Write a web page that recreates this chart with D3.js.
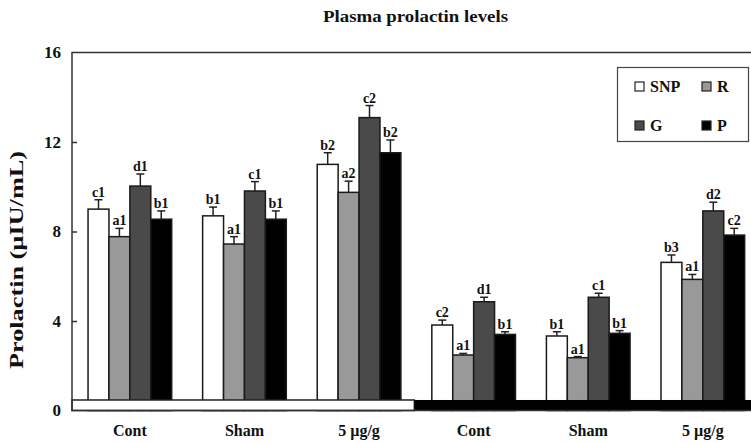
<!DOCTYPE html>
<html>
<head>
<meta charset="utf-8">
<script src="https://cdn.jsdelivr.net/npm/d3@7"></script>
<style>
  body { margin: 0; background: #fff; }
  text { font-family: "Liberation Serif", "Times New Roman", serif; font-weight: bold; fill: #111; }
</style>
</head>
<body>
<div class="chart"></div>
<script>
// Chart data
var groupLabels = ["Cont", "Sham", "5 \u00b5g/g", "Cont", "Sham", "5 \u00b5g/g"];
var seriesNames = ["SNP", "R", "G", "P"];

var snpValues = [9.0, 8.7, 11.0, 3.82, 3.33, 6.62];
var rValues   = [7.77, 7.44, 9.75, 2.48, 2.36, 5.86];
var gValues   = [10.03, 9.81, 13.09, 4.86, 5.06, 8.92];
var pValues   = [8.55, 8.55, 11.52, 3.4, 3.45, 7.84];

var snpErr = [0.42, 0.39, 0.52, 0.22, 0.19, 0.33];
var rErr   = [0.37, 0.33, 0.5, 0.07, 0.05, 0.22];
var gErr   = [0.54, 0.42, 0.54, 0.2, 0.18, 0.39];
var pErr   = [0.37, 0.37, 0.57, 0.12, 0.12, 0.3];

var snpLetters = ["c1", "b1", "b2", "c2", "b1", "b3"];
var rLetters   = ["a1", "a1", "a2", "a1", "a1", "a1"];
var gLetters   = ["d1", "c1", "c2", "d1", "c1", "d2"];
var pLetters   = ["b1", "b1", "b2", "b1", "b1", "c2"];

var yTicks = [0, 4, 8, 12, 16];

// Set up our chart
var svgWidth = 751;
var svgHeight = 443;
var colors = ["#ffffff", "#999999", "#4a4a4a", "#000000"];
var stripTop = 0.47;

var svg = d3.select(".chart")
    .append("svg")
    .attr("width", svgWidth)
    .attr("height", svgHeight);

// build rows from the arrays
var valueSets = [snpValues, rValues, gValues, pValues];
var errSets = [snpErr, rErr, gErr, pErr];
var letterSets = [snpLetters, rLetters, gLetters, pLetters];
var bars = [];
groupLabels.forEach(function(label, gi) {
    seriesNames.forEach(function(s, si) {
        bars.push({ group: gi, series: s, si: si,
            value: valueSets[si][gi], err: errSets[si][gi], letter: letterSets[si][gi] });
    });
});

// Scales
var x0 = d3.scaleBand()
    .domain(d3.range(groupLabels.length))
    .range([72, 760.7])
    .paddingInner(0.27)
    .paddingOuter(0.14);

var x1 = d3.scaleBand()
    .domain(seriesNames)
    .range([0, x0.bandwidth()]);

var y = d3.scaleLinear()
    .domain([0, 16])
    .range([410.5, 52.5]);

// Title
svg.append("text")
    .attr("x", 323)
    .attr("y", 22)
    .attr("textLength", 185)
    .attr("lengthAdjust", "spacingAndGlyphs")
    .style("font-size", "16px")
    .text("Plasma prolactin levels");

// Bars
svg.selectAll("rect.bar")
    .data(bars)
    .enter()
    .append("rect")
    .attr("class", "bar")
    .attr("x", d => x0(d.group) + x1(d.series))
    .attr("y", d => y(d.value))
    .attr("width", x1.bandwidth())
    .attr("height", d => y(0) - y(d.value))
    .attr("fill", d => colors[d.si])
    .attr("stroke", "#1a1a1a")
    .attr("stroke-width", 1.5);

// Error bars
var errG = svg.append("g").attr("stroke", "#222").attr("stroke-width", 1.5);
errG.selectAll("line.stem")
    .data(bars)
    .enter()
    .append("line")
    .attr("x1", d => x0(d.group) + x1(d.series) + x1.bandwidth() / 2)
    .attr("x2", d => x0(d.group) + x1(d.series) + x1.bandwidth() / 2)
    .attr("y1", d => y(d.value))
    .attr("y2", d => y(d.value + d.err));
errG.selectAll("line.cap")
    .data(bars)
    .enter()
    .append("line")
    .attr("x1", d => x0(d.group) + x1(d.series) + x1.bandwidth() / 2 - 4)
    .attr("x2", d => x0(d.group) + x1(d.series) + x1.bandwidth() / 2 + 4)
    .attr("y1", d => y(d.value + d.err))
    .attr("y2", d => y(d.value + d.err));

// Significance letters
svg.selectAll("text.letter")
    .data(bars)
    .enter()
    .append("text")
    .attr("x", d => x0(d.group) + x1(d.series) + x1.bandwidth() / 2)
    .attr("y", d => y(d.value + d.err) - 3)
    .attr("text-anchor", "middle")
    .style("font-size", "14px")
    .text(d => d.letter);

// Group strip along the bottom
var split = (x0(2) + x0.bandwidth() + x0(3)) / 2 - 2;
svg.append("rect")
    .attr("x", 72)
    .attr("y", y(stripTop))
    .attr("width", split - 72)
    .attr("height", y(0) - y(stripTop))
    .attr("fill", "#fff")
    .attr("stroke", "#222")
    .attr("stroke-width", 1.5);
svg.append("rect")
    .attr("x", split)
    .attr("y", y(stripTop))
    .attr("width", svgWidth - split + 5)
    .attr("height", y(0) - y(stripTop))
    .attr("fill", "#000");

// Frame lines (left and top)
svg.append("path")
    .attr("d", `M${svgWidth + 5},${y(16)}H72V${y(0)}H${svgWidth + 5}`)
    .attr("fill", "none")
    .attr("stroke", "#333")
    .attr("stroke-width", 1.5);

// Y axis: inward ticks, labels on the left
var leftAxis = d3.axisRight(y)
    .tickValues(yTicks.slice(1, -1))
    .tickSize(5)
    .tickFormat("");
svg.append("g")
    .attr("transform", "translate(72,0)")
    .call(leftAxis)
    .call(g => g.select(".domain").remove())
    .call(g => g.selectAll("line").attr("stroke", "#333").attr("stroke-width", 1.5));

svg.selectAll("text.ytick")
    .data(yTicks)
    .enter()
    .append("text")
    .attr("x", 61)
    .attr("y", d => y(d))
    .attr("dy", "0.35em")
    .attr("text-anchor", "end")
    .style("font-size", "17px")
    .text(d => d);

// Category labels
svg.selectAll("text.cat")
    .data(groupLabels)
    .enter()
    .append("text")
    .attr("x", (d, i) => x0(i) + x0.bandwidth() / 2)
    .attr("y", 436)
    .attr("text-anchor", "middle")
    .style("font-size", "16px")
    .text(d => d);

// Y axis title
svg.append("text")
    .attr("transform", "translate(23,260) rotate(-90)")
    .attr("text-anchor", "middle")
    .attr("textLength", 218)
    .attr("lengthAdjust", "spacingAndGlyphs")
    .style("font-size", "19px")
    .text("Prolactin (\u00b5IU/mL)");

// Legend
var legend = svg.append("g");
legend.append("rect")
    .attr("x", 617.5)
    .attr("y", 67.5)
    .attr("width", 131)
    .attr("height", 74)
    .attr("fill", "#fff")
    .attr("stroke", "#444")
    .attr("stroke-width", 1.2);

var legendPos = [[635, 82], [702, 82], [635, 121], [702, 121]];
seriesNames.forEach(function(s, i) {
    legend.append("rect")
        .attr("x", legendPos[i][0])
        .attr("y", legendPos[i][1])
        .attr("width", 9)
        .attr("height", 9)
        .attr("fill", colors[i])
        .attr("stroke", "#222")
        .attr("stroke-width", 1.2);
    legend.append("text")
        .attr("x", legendPos[i][0] + 15)
        .attr("y", legendPos[i][1] + 10)
        .style("font-size", "16px")
        .text(s);
});
</script>
</body>
</html>
